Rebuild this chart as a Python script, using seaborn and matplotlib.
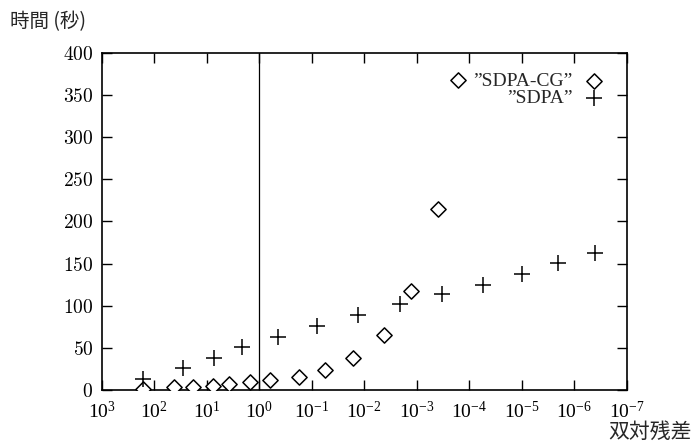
import matplotlib
matplotlib.use("Agg")
import matplotlib.pyplot as plt
import matplotlib.ticker as mticker
import pandas as pd
import seaborn as sns

# Data (x = dual residual, y = time in seconds)
cg_residual = [166, 42.7, 18.6, 7.76, 3.72, 1.48, 0.617, 0.174, 0.0562,
               0.0166, 0.00427, 0.00126, 3.89e-4, 1.66e-4]
cg_time = [1, 3, 3, 5, 7, 10, 12, 16, 24, 38, 65, 118, 215, 368]

sdpa_residual = [162, 28.8, 7.24, 2.09, 0.447, 0.0794, 0.0132, 2.04e-3,
                 3.24e-4, 5.5e-5, 1.0e-5, 2.04e-6, 4.07e-7]
sdpa_time = [13, 26, 38, 51, 63, 76, 89, 102, 114, 125, 138, 151, 163]

series_names = ['\u201dSDPA-CG\u201d', '\u201dSDPA\u201d']
y_ticks = [0, 50, 100, 150, 200, 250, 300, 350, 400]
x_ticks = [10.0 ** e for e in range(3, -8, -1)]

df_cg = pd.DataFrame({"residual": cg_residual, "time": cg_time})
df_sdpa = pd.DataFrame({"residual": sdpa_residual, "time": sdpa_time})

sns.set_theme(style="ticks")
plt.rcParams['font.family'] = ['Liberation Serif', 'DejaVu Serif']
plt.rcParams['mathtext.fontset'] = 'cm'

fig = plt.figure(figsize=(6.93, 4.42), dpi=100)
ax = fig.add_axes([0.1468, 0.1176, 0.9043 - 0.1468, 0.8808 - 0.1176])

sns.scatterplot(data=df_cg, x="residual", y="time", ax=ax, marker="D",
                s=60, facecolor="white", edgecolor="black", linewidth=1.1,
                label=series_names[0], zorder=3)
sns.scatterplot(data=df_sdpa, x="residual", y="time", ax=ax, marker="+",
                s=120, color="black", linewidth=1.1,
                label=series_names[1], zorder=3)

ax.axvline(1, color="black", lw=0.9, zorder=1)

ax.set_xscale("log")
ax.set_xlim(1e3, 1e-7)
ax.set_ylim(0, 400)
ax.set_xticks(x_ticks)
ax.xaxis.set_major_formatter(mticker.LogFormatterMathtext())
ax.xaxis.set_minor_locator(mticker.NullLocator())
ax.set_yticks(y_ticks)
ax.yaxis.set_major_formatter(mticker.FuncFormatter(lambda v, p: r"$%d$" % v))

ax.tick_params(axis="both", which="major", direction="in", length=7,
               width=1.0, top=True, right=True, labelsize=14, pad=6,
               colors="black")
ax.tick_params(axis="x", pad=8)
for sp in ax.spines.values():
    sp.set_linewidth(1.2)
    sp.set_color("black")

ax.set_xlabel("")
ax.set_ylabel("")

fig.text(0.014, 0.95, "時間 (秒)", family=["Noto Sans CJK JP", "DejaVu Serif"],
         fontsize=14, ha="left", va="center")
fig.text(0.998, 0.023, "双対残差", family=["Noto Sans CJK JP"],
         fontsize=15, ha="right", va="center")

leg = ax.legend(loc="upper right", frameon=False, markerfirst=False,
                fontsize=14, handletextpad=0.4, handlelength=1.4,
                borderaxespad=0.6, labelspacing=0.0, alignment="right")
for t in leg.get_texts():
    t.set_ha("right")
leg._legend_box.align = "right"

fig.savefig("out.png", dpi=100)
